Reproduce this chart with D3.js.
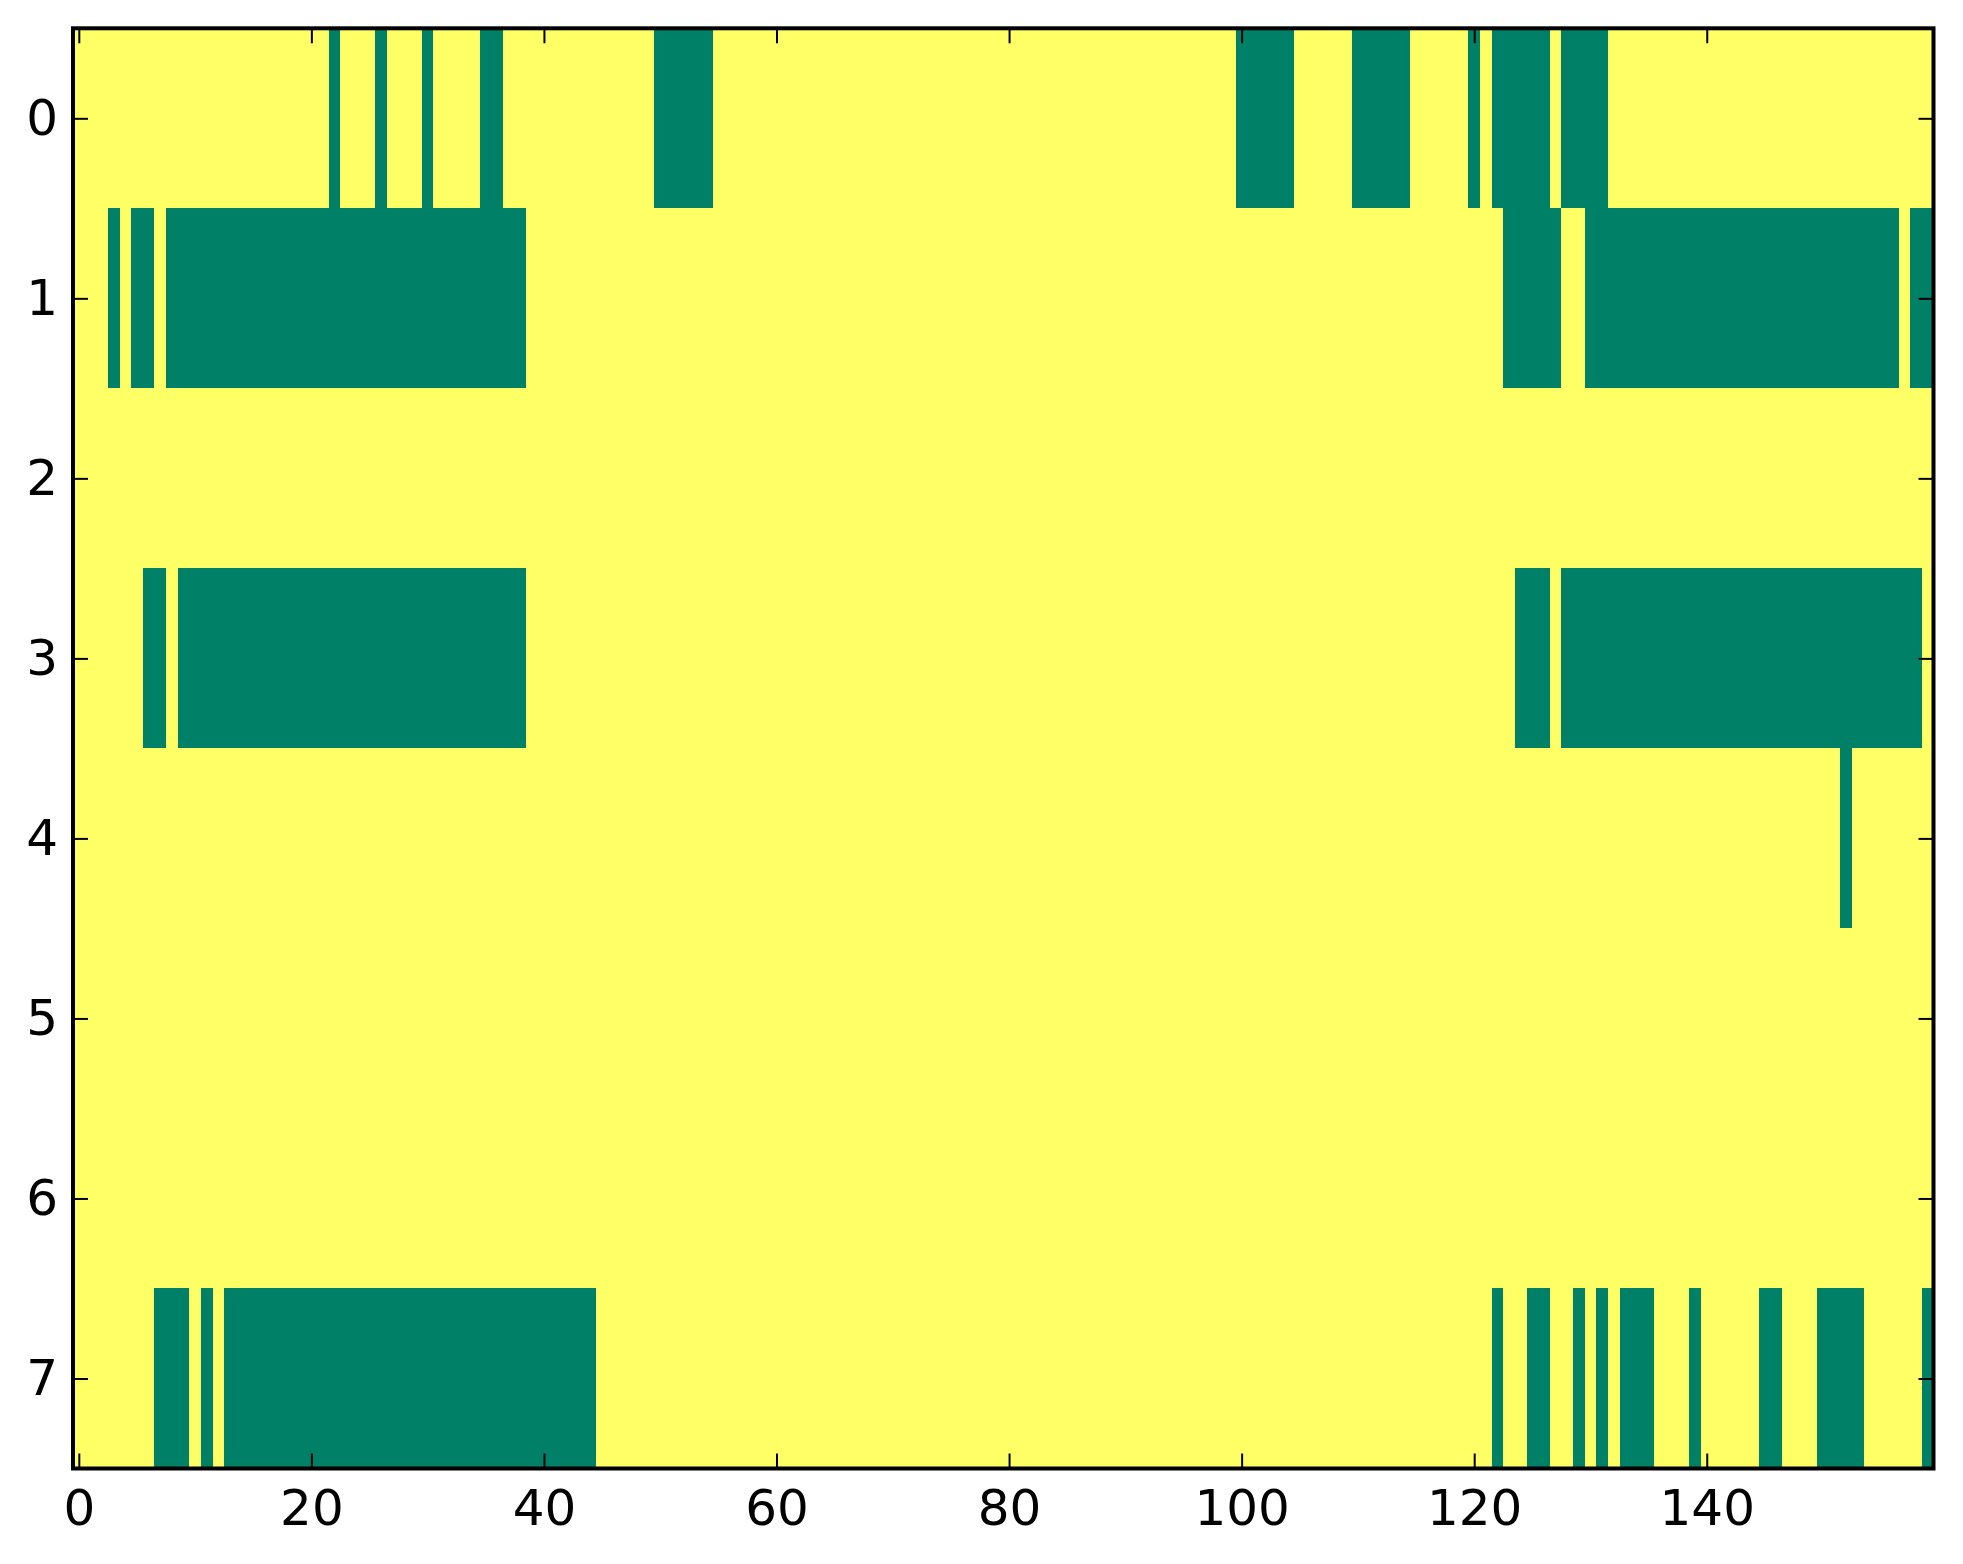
<!DOCTYPE html>
<html>
<head>
<meta charset="utf-8">
<script src="https://cdn.jsdelivr.net/npm/d3@7"></script>
<style>
  html, body { margin: 0; padding: 0; background: #ffffff; }
  svg { display: block; }
</style>
</head>
<body>
<svg id="chart" width="1963" height="1564"></svg>
<script>
//binary grid: 1 = yellow, 0 = green (groups of 10 columns)
const row0 = "1111111111 1111111111 1101110111 0111100111 1111111111 0000011111 1111111111 1111111111 1111111111 1111111111 0000011111 0000011111 0100000100 0011111111 1111111111 1111111111";
const row1 = "1110100100 0000000000 0000000000 0000000001 1111111111 1111111111 1111111111 1111111111 1111111111 1111111111 1111111111 1111111111 1110000011 0000000000 0000000000 0000000100";
const row2 = "1111111111 1111111111 1111111111 1111111111 1111111111 1111111111 1111111111 1111111111 1111111111 1111111111 1111111111 1111111111 1111111111 1111111111 1111111111 1111111111";
const row3 = "1111110010 0000000000 0000000000 0000000001 1111111111 1111111111 1111111111 1111111111 1111111111 1111111111 1111111111 1111111111 1111000100 0000000000 0000000000 0000000001";
const row4 = "1111111111 1111111111 1111111111 1111111111 1111111111 1111111111 1111111111 1111111111 1111111111 1111111111 1111111111 1111111111 1111111111 1111111111 1111111111 1101111111";
const row5 = "1111111111 1111111111 1111111111 1111111111 1111111111 1111111111 1111111111 1111111111 1111111111 1111111111 1111111111 1111111111 1111111111 1111111111 1111111111 1111111111";
const row6 = "1111111111 1111111111 1111111111 1111111111 1111111111 1111111111 1111111111 1111111111 1111111111 1111111111 1111111111 1111111111 1111111111 1111111111 1111111111 1111111111";
const row7 = "1111111000 1010000000 0000000000 0000000000 0000011111 1111111111 1111111111 1111111111 1111111111 1111111111 1111111111 1111111111 1101100110 1010001110 1111100111 0000111110";

const rows = [row0, row1, row2, row3, row4, row5, row6, row7];
const xTicks = [0, 20, 40, 60, 80, 100, 120, 140];
const yTicks = [0, 1, 2, 3, 4, 5, 6, 7];

//plot area
const margin = { top: 28.3, right: 29.5, bottom: 95.5, left: 73 };
const width = 1963 - margin.left - margin.right;
const height = 1564 - margin.top - margin.bottom;

//turn the row strings into cells
const cells = [];
rows.forEach((r, i) => {
    r.replace(/\s/g, "").split("").forEach((v, j) => {
        cells.push({ row: i, col: j, value: +v });
    });
});
const nCols = d3.max(cells, d => d.col) + 1;

const x = d3.scaleLinear().domain([-0.5, nCols - 0.5]).range([0, width]);
const y = d3.scaleLinear().domain([-0.5, rows.length - 0.5]).range([0, height]);
//summer colormap ends
const color = d3.scaleLinear().domain([0, 1]).range(["#008066", "#ffff66"]);

const svg = d3.select("#chart")
    .append("g")
    .attr("transform", `translate(${margin.left},${margin.top})`);

//image cells
svg.append("g")
    .attr("shape-rendering", "crispEdges")
    .selectAll("rect")
    .data(cells)
    .join("rect")
    .attr("x", d => x(d.col - 0.5))
    .attr("y", d => y(d.row - 0.5))
    .attr("width", d => x(d.col + 0.5) - x(d.col - 0.5) + 0.6)
    .attr("height", d => y(d.row + 0.5) - y(d.row - 0.5) + 0.6)
    .attr("fill", d => color(d.value));

//axes with inward ticks on all four sides
const tickLen = 15;
function styleAxis(g) {
    g.select(".domain").remove();
    g.selectAll(".tick line").attr("stroke", "#000").attr("stroke-width", 2);
    g.selectAll(".tick text")
        .attr("fill", "#000")
        .style("font-family", "'DejaVu Sans', sans-serif")
        .style("font-size", "50px");
}

svg.append("g")
    .attr("transform", `translate(0,${height})`)
    .call(d3.axisBottom(x).tickValues(xTicks).tickSizeInner(-tickLen).tickSizeOuter(0).tickPadding(21))
    .call(styleAxis);
svg.append("g")
    .call(d3.axisTop(x).tickValues(xTicks).tickSizeInner(-tickLen).tickSizeOuter(0).tickFormat(""))
    .call(styleAxis);
svg.append("g")
    .call(d3.axisLeft(y).tickValues(yTicks).tickSizeInner(-tickLen).tickSizeOuter(0).tickPadding(15))
    .call(styleAxis);
svg.append("g")
    .attr("transform", `translate(${width},0)`)
    .call(d3.axisRight(y).tickValues(yTicks).tickSizeInner(-tickLen).tickSizeOuter(0).tickFormat(""))
    .call(styleAxis);

//frame
svg.append("rect")
    .attr("x", 0)
    .attr("y", 0)
    .attr("width", width)
    .attr("height", height)
    .attr("fill", "none")
    .attr("stroke", "#000")
    .attr("stroke-width", 4);
</script>
</body>
</html>
